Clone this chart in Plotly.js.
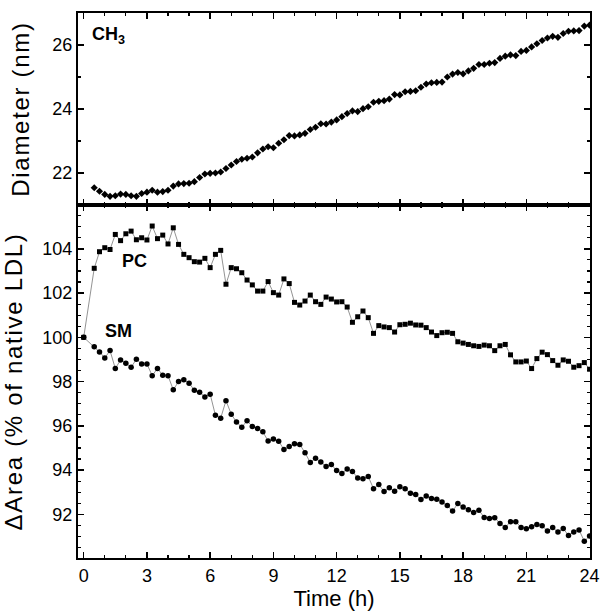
<!DOCTYPE html>
<html>
<head>
<meta charset="utf-8">
<script src="https://cdn.plot.ly/plotly-3.0.1.min.js"></script>
<style>
  html, body { margin: 0; padding: 0; background: #fff; }
  #chart { width: 600px; height: 611px; }
  .ytitle, .y2title { letter-spacing: 1.7px; }
</style>
</head>
<body>
<div id="chart"></div>
<script>
// Time axis (h)
const timeDiameter = [0.5,0.75,1,1.25,1.5,1.75,2,2.25,2.5,2.75,3,3.25,3.5,3.75,4,4.25,4.5,4.75,5,5.25,5.5,5.75,6,6.25,6.5,6.75,7,7.25,7.5,7.75,8,8.25,8.5,8.75,9,9.25,9.5,9.75,10,10.25,10.5,10.75,11,11.25,11.5,11.75,12,12.25,12.5,12.75,13,13.25,13.5,13.75,14,14.25,14.5,14.75,15,15.25,15.5,15.75,16,16.25,16.5,16.75,17,17.25,17.5,17.75,18,18.25,18.5,18.75,19,19.25,19.5,19.75,20,20.25,20.5,20.75,21,21.25,21.5,21.75,22,22.25,22.5,22.75,23,23.25,23.5,23.75,24];
const timeArea = [0,0.5,0.75,1,1.25,1.5,1.75,2,2.25,2.5,2.75,3,3.25,3.5,3.75,4,4.25,4.5,4.75,5,5.25,5.5,5.75,6,6.25,6.5,6.75,7,7.25,7.5,7.75,8,8.25,8.5,8.75,9,9.25,9.5,9.75,10,10.25,10.5,10.75,11,11.25,11.5,11.75,12,12.25,12.5,12.75,13,13.25,13.5,13.75,14,14.25,14.5,14.75,15,15.25,15.5,15.75,16,16.25,16.5,16.75,17,17.25,17.5,17.75,18,18.25,18.5,18.75,19,19.25,19.5,19.75,20,20.25,20.5,20.75,21,21.25,21.5,21.75,22,22.25,22.5,22.75,23,23.25,23.5,23.75,24];

// CH3 particle diameter (nm)
const diameterCH3 = [21.54,21.43,21.33,21.27,21.29,21.34,21.33,21.29,21.27,21.36,
21.40,21.46,21.40,21.42,21.46,21.59,21.66,21.67,21.68,21.73,
21.86,21.97,21.99,22.00,22.03,22.14,22.25,22.36,22.43,22.46,
22.50,22.63,22.75,22.82,22.79,22.93,23.04,23.17,23.16,23.19,
23.24,23.36,23.43,23.54,23.53,23.59,23.66,
23.76,23.86,23.94,23.92,24.01,24.07,24.21,24.24,24.26,24.31,
24.45,24.44,24.54,24.55,24.57,24.68,24.78,24.82,24.83,24.84,
25.00,25.09,25.14,25.10,25.19,25.27,25.39,25.39,25.43,25.45,
25.58,25.65,25.69,25.67,25.80,25.83,25.94,26.04,26.14,26.22,
26.27,26.24,26.36,26.43,26.44,26.45,26.59,26.62];

// Delta area (% of native LDL)
const areaPC = [100,
103.12,103.87,104.05,103.97,104.65,104.37,104.68,104.80,104.41,104.50,
104.40,105.03,104.46,104.62,104.22,104.95,104.20,103.75,103.60,103.42,
103.40,103.57,103.15,103.75,103.93,102.40,103.15,103.10,102.92,102.59,
102.37,102.09,102.09,102.52,102.02,101.91,102.64,102.43,101.58,101.46,
101.64,101.91,101.61,101.49,101.82,101.73,101.60,
101.61,101.37,100.68,100.93,101.19,100.89,100.18,100.53,100.47,100.44,
100.24,100.57,100.59,100.64,100.56,100.55,100.44,100.24,100.08,100.21,
100.23,100.18,
99.80,99.74,99.68,99.62,99.59,99.65,99.62,99.40,99.62,99.68,
99.21,98.89,98.89,98.93,98.59,99.04,99.33,99.22,98.95,98.74,
98.98,98.92,98.65,98.72,98.86,98.56];

const areaSM = [100,
99.58,99.34,99.07,99.40,98.59,98.98,98.83,98.65,99.01,98.80,
98.80,98.27,98.59,98.29,98.27,97.63,98.00,98.08,97.93,97.61,
97.52,97.31,97.43,96.48,96.35,97.14,96.53,96.17,95.94,96.23,
95.97,95.88,95.73,95.32,95.41,95.31,94.93,95.07,95.19,95.16,
94.79,94.34,94.54,94.37,94.16,94.25,93.98,
93.85,94.05,93.94,93.65,93.61,93.71,93.16,93.35,93.03,93.20,
93.05,93.25,93.16,92.96,92.90,92.67,92.83,92.72,92.69,92.56,
92.40,92.15,92.49,92.33,92.21,92.09,92.19,91.86,91.81,91.85,
91.59,91.41,91.67,91.67,91.41,91.35,91.44,91.54,91.49,91.25,
91.41,91.20,91.36,91.05,91.21,91.30,90.79,91.02];

const xTickVals = [0,3,6,9,12,15,18,21,24];

const FONT = 'Liberation Sans, Arial, Helvetica, sans-serif';

const traces = [
  {x: timeDiameter, y: diameterCH3, xaxis: 'x2', yaxis: 'y2', mode: 'markers', name: 'CH3',
   marker: {symbol: 'diamond', size: 5.5, color: '#000'}},
  {x: timeArea, y: areaPC, xaxis: 'x', yaxis: 'y', mode: 'lines+markers', name: 'PC',
   line: {color: '#777', width: 0.8}, marker: {symbol: 'square', size: 5, color: '#000'}},
  {x: timeArea, y: areaSM, xaxis: 'x', yaxis: 'y', mode: 'lines+markers', name: 'SM',
   line: {color: '#777', width: 0.8}, marker: {symbol: 'circle', size: 5.5, color: '#000'}}
];

const axisCommon = {
  showline: true, linecolor: '#000', linewidth: 2, mirror: 'ticks',
  ticks: 'inside', ticklen: 6, tickwidth: 1.5, tickcolor: '#000',
  showgrid: false, zeroline: false,
  tickfont: {family: FONT, size: 18, color: '#000'}
};

const layout = {
  width: 600, height: 611,
  margin: {l: 78, r: 10, t: 13, b: 53},
  paper_bgcolor: '#fff', plot_bgcolor: '#fff',
  showlegend: false,
  font: {family: FONT, color: '#000'},
  xaxis: Object.assign({}, axisCommon, {
    anchor: 'y', range: [-0.27, 24.02], tickvals: xTickVals,
    minor: {dtick: 1, tick0: 0, ticks: 'inside', ticklen: 3, tickwidth: 1.2, tickcolor: '#000', showgrid: false},
    title: {text: 'Time (h)', font: {family: FONT, size: 22, color: '#000'}, standoff: 4}
  }),
  xaxis2: Object.assign({}, axisCommon, {
    anchor: 'y2', matches: 'x', range: [-0.27, 24.02], tickvals: xTickVals, showticklabels: false,
    minor: {dtick: 1, tick0: 0, ticks: 'inside', ticklen: 3, tickwidth: 1.2, tickcolor: '#000', showgrid: false}
  }),
  yaxis: Object.assign({}, axisCommon, {
    anchor: 'x', domain: [0, 0.6477], range: [90.03, 105.98], dtick: 2, tick0: 0,
    minor: {dtick: 0.5, tick0: 0, ticks: 'inside', ticklen: 3, tickwidth: 1.2, tickcolor: '#000', showgrid: false},
    title: {text: '\u0394Area (% of native LDL)', font: {family: FONT, size: 24, color: '#000'}, standoff: 16}
  }),
  yaxis2: Object.assign({}, axisCommon, {
    anchor: 'x2', domain: [0.6477, 1], range: [21, 27], dtick: 2, tick0: 0,
    minor: {dtick: 1, tick0: 0, ticks: 'inside', ticklen: 3, tickwidth: 1.2, tickcolor: '#000', showgrid: false},
    title: {text: 'Diameter (nm)', font: {family: FONT, size: 24, color: '#000'}, standoff: 16}
  }),
  annotations: [
    {text: '<b>CH</b><sub><b>3</b></sub>', xref: 'x2', yref: 'y2', x: 0.3, y: 26.3,
     xanchor: 'left', yanchor: 'middle', showarrow: false, font: {family: FONT, size: 18, color: '#000'}},
    {text: '<b>PC</b>', xref: 'x', yref: 'y', x: 1.72, y: 103.45,
     xanchor: 'left', yanchor: 'middle', showarrow: false, font: {family: FONT, size: 18, color: '#000'}},
    {text: '<b>SM</b>', xref: 'x', yref: 'y', x: 0.92, y: 100.3,
     xanchor: 'left', yanchor: 'middle', showarrow: false, font: {family: FONT, size: 18, color: '#000'}}
  ]
};

Plotly.newPlot('chart', traces, layout, {displayModeBar: false, staticPlot: true});
</script>
</body>
</html>
